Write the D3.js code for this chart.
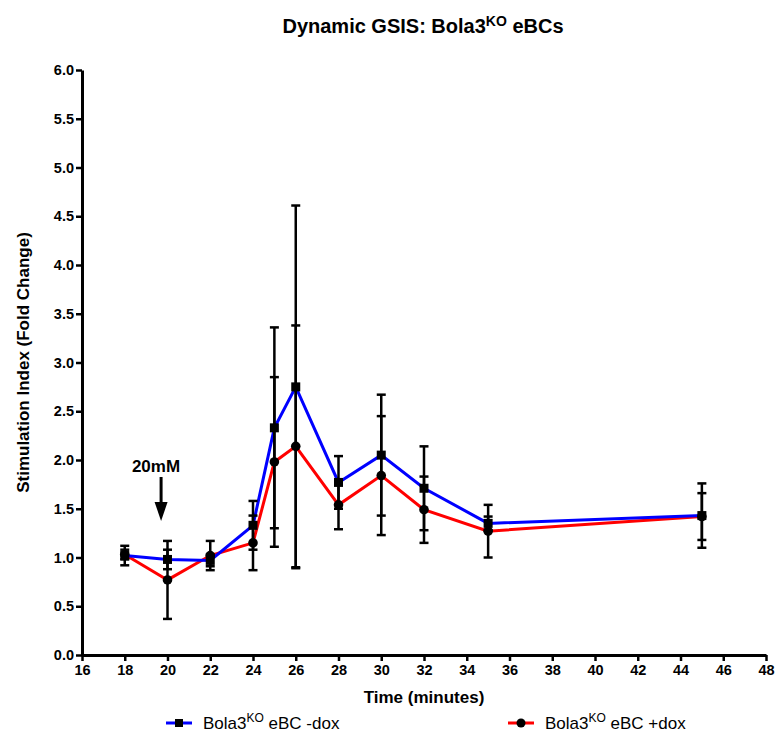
<!DOCTYPE html>
<html>
<head>
<meta charset="utf-8">
<script src="https://cdn.jsdelivr.net/npm/d3@7"></script>
<style>
  body { margin: 0; background: #fff; }
  text { font-family: "Liberation Sans", Arial, sans-serif; }
</style>
</head>
<body>
<div id="chart"></div>
<script>
const times = [18, 20, 22, 24, 25, 26, 28, 30, 32, 35, 45];
const minusDox = [1.02, 0.98, 0.97, 1.33, 2.33, 2.75, 1.77, 2.05, 1.71, 1.35, 1.43];
const minusDoxErr = [0.10, 0.10, 0.06, 0.25, 1.03, 1.86, 0.27, 0.62, 0.43, 0.07, 0.33];
const plusDox = [1.03, 0.77, 1.02, 1.15, 1.98, 2.14, 1.54, 1.84, 1.49, 1.27, 1.42];
const plusDoxErr = [0.05, 0.40, 0.15, 0.28, 0.87, 1.24, 0.25, 0.61, 0.34, 0.27, 0.24];
const xTicks = d3.range(16, 49, 2);
const yTicks = d3.range(0, 6.01, 0.5);

const width = 775;
const height = 737;
const margin = { left: 82, right: 9, top: 70, bottom: 82 };

const svg = d3.select("#chart")
    .append("svg")
    .attr("width", width)
    .attr("height", height);

const x = d3.scaleLinear().domain([16, 48]).range([margin.left, width - margin.right]);
const y = d3.scaleLinear().domain([0, 6]).range([height - margin.bottom, margin.top]);

// axes
const xAxis = svg.append("g")
    .attr("transform", `translate(0, ${y(0)})`)
    .call(d3.axisBottom(x).tickValues(xTicks).tickSize(6).tickSizeOuter(0).tickPadding(4));
const yAxis = svg.append("g")
    .attr("transform", `translate(${x(16)}, 0)`)
    .call(d3.axisLeft(y).tickValues(yTicks).tickFormat(d3.format(".1f")).tickSize(6).tickSizeOuter(0).tickPadding(2));

[xAxis, yAxis].forEach(g => {
    g.select(".domain").attr("stroke", "#000").attr("stroke-width", 3);
    g.selectAll(".tick line").attr("stroke", "#000").attr("stroke-width", 2.5);
    g.selectAll(".tick text")
        .attr("fill", "#000")
        .style("font-size", "14.5px")
        .style("font-weight", "bold")
        .style("font-family", "'Liberation Sans', Arial, sans-serif");
});

// titles
const title = svg.append("text")
    .attr("x", 423).attr("y", 33)
    .attr("text-anchor", "middle")
    .style("font-size", "20px").style("font-weight", "bold");
title.append("tspan").text("Dynamic GSIS: Bola3");
title.append("tspan").attr("dy", -7).style("font-size", "14px").text("KO");
title.append("tspan").attr("dy", 7).text(" eBCs");

svg.append("text")
    .attr("x", x(32)).attr("y", 703)
    .attr("text-anchor", "middle")
    .style("font-size", "17px").style("font-weight", "bold")
    .text("Time (minutes)");

svg.append("text")
    .attr("transform", `translate(29, ${y(3)}) rotate(-90)`)
    .attr("text-anchor", "middle")
    .style("font-size", "17px").style("font-weight", "bold")
    .text("Stimulation Index (Fold Change)");

// stimulus arrow
svg.append("text")
    .attr("x", 156).attr("y", 472)
    .attr("text-anchor", "middle")
    .style("font-size", "17px").style("font-weight", "bold")
    .text("20mM");
svg.append("line")
    .attr("x1", x(19.7)).attr("x2", x(19.7))
    .attr("y1", 477).attr("y2", 505)
    .attr("stroke", "#000").attr("stroke-width", 3);
svg.append("path")
    .attr("d", `M${x(19.7) - 6.5},502 L${x(19.7) + 6.5},502 L${x(19.7)},521 Z`)
    .attr("fill", "#000");

const series = [
    { name: "plus", values: plusDox, err: plusDoxErr, color: "#ff0000", shape: "circle" },
    { name: "minus", values: minusDox, err: minusDoxErr, color: "#0000ff", shape: "square" }
];

const line = d3.line().x(d => x(d.t)).y(d => y(d.v));

series.forEach(s => {
    const pts = times.map((t, i) => ({ t: t, v: s.values[i], e: s.err[i] }));
    s.pts = pts;
    svg.append("path")
        .datum(pts)
        .attr("fill", "none")
        .attr("stroke", s.color)
        .attr("stroke-width", 3)
        .attr("d", line);
});

series.forEach(s => {
    const eb = svg.append("g").attr("stroke", "#000").attr("stroke-width", 2.5);
    s.pts.forEach(p => {
        eb.append("line").attr("x1", x(p.t)).attr("x2", x(p.t))
            .attr("y1", y(p.v - p.e)).attr("y2", y(p.v + p.e));
        [p.v - p.e, p.v + p.e].forEach(v => {
            eb.append("line").attr("x1", x(p.t) - 4.5).attr("x2", x(p.t) + 4.5)
                .attr("y1", y(v)).attr("y2", y(v));
        });
    });
});

series.forEach(s => {
    s.pts.forEach(p => {
        if (s.shape === "circle") {
            svg.append("circle").attr("cx", x(p.t)).attr("cy", y(p.v)).attr("r", 4.8).attr("fill", "#000");
        } else {
            svg.append("rect").attr("x", x(p.t) - 4.5).attr("y", y(p.v) - 4.5)
                .attr("width", 9).attr("height", 9).attr("fill", "#000");
        }
    });
});

// legend
const legendItems = [
    { x: 166, color: "#0000ff", shape: "square", label: " eBC -dox" },
    { x: 508, color: "#ff0000", shape: "circle", label: " eBC +dox" }
];
legendItems.forEach(l => {
    const g = svg.append("g").attr("transform", `translate(${l.x}, 723)`);
    g.append("line").attr("x1", 0).attr("x2", 26).attr("stroke", l.color).attr("stroke-width", 3);
    if (l.shape === "square") {
        g.append("rect").attr("x", 9).attr("y", -4).attr("width", 8).attr("height", 8).attr("fill", "#000");
    } else {
        g.append("circle").attr("cx", 13).attr("cy", 0).attr("r", 4.5).attr("fill", "#000");
    }
    const t = g.append("text").attr("x", 37).attr("y", 6).style("font-size", "17px");
    t.append("tspan").text("Bola3");
    t.append("tspan").attr("dy", -7).style("font-size", "12px").text("KO");
    t.append("tspan").attr("dy", 7).text(l.label);
});
</script>
</body>
</html>
